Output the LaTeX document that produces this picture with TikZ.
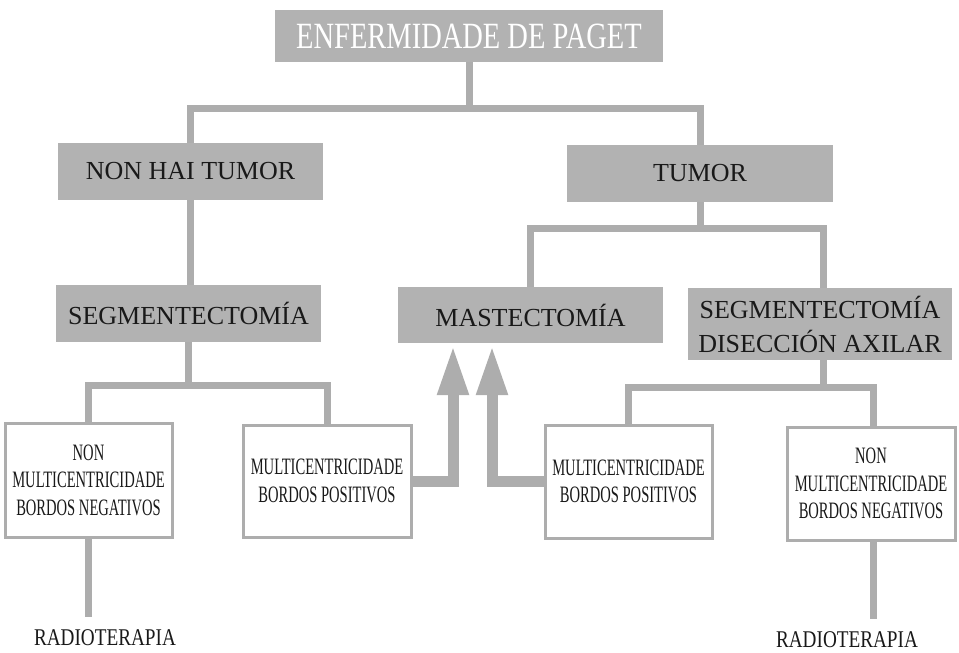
\documentclass[tikz,border=0pt]{standalone}
\usepackage{fontspec}
\setmainfont{Liberation Serif}
\newfontfamily\condfont[FakeStretch=0.62]{Liberation Serif}
\newfontfamily\radfont[FakeStretch=0.8]{Liberation Serif}
\newfontfamily\headfont[FakeStretch=0.77]{Liberation Serif}
\usetikzlibrary{arrows.meta}
\definecolor{linegray}{gray}{0.68}
\definecolor{fillgray}{gray}{0.70}
\definecolor{inkgray}{gray}{0.10}

\begin{document}
\begin{tikzpicture}[x=1pt,y=-1pt,
  graybox/.style={fill=fillgray, inner sep=0pt, text=inkgray,
    font=\fontsize{26}{34}\selectfont, align=center},
  whitebox/.style={draw=linegray, line width=3pt, fill=white, inner sep=0pt,
    text=inkgray, font=\condfont\fontsize{23.5}{27.5}\selectfont, align=center},
  conn/.style={draw=linegray, line width=7pt},
  bigarrow/.style={draw=linegray, line width=11pt,
    -{Triangle[width=29pt,length=50pt]}},
  radlabel/.style={inner sep=0pt, text=inkgray,
    font=\radfont\fontsize{24}{28}\selectfont}]

\useasboundingbox (0,0) rectangle (959,653);

% top level
\node[graybox, minimum width=388pt, minimum height=52pt, text=white,
  font=\headfont\fontsize{37}{40}\selectfont] (title) at (469,36) {ENFERMIDADE DE PAGET};

% second level
\node[graybox, minimum width=265pt, minimum height=57pt] (nonhai) at (190.5,171.5) {NON HAI TUMOR};
\node[graybox, minimum width=266pt, minimum height=57pt] (tumor) at (700,173.5) {TUMOR};

% third level
\node[graybox, minimum width=265pt, minimum height=57pt] (segl) at (188.5,313.5) {SEGMENTECTOMÍA};
\node[graybox, minimum width=265pt, minimum height=56pt] (mast) at (530.5,315) {MASTECTOMÍA};
\node[graybox, minimum width=264pt, minimum height=72pt] (segdis) at (820,324) {SEGMENTECTOMÍA\\DISECCIÓN AXILAR};

% outcome boxes
\node[whitebox, minimum width=167pt, minimum height=114pt] (nonL) at (88.5,480) {NON\\MULTICENTRICIDADE\\BORDOS NEGATIVOS};
\node[whitebox, minimum width=168pt, minimum height=112pt] (posL) at (327,481) {MULTICENTRICIDADE\\BORDOS POSITIVOS};
\node[whitebox, minimum width=167pt, minimum height=113pt] (posR) at (628.5,481.5) {MULTICENTRICIDADE\\BORDOS POSITIVOS};
\node[whitebox, minimum width=168pt, minimum height=113pt] (nonR) at (871,483.5) {NON\\MULTICENTRICIDADE\\BORDOS NEGATIVOS};

% treatment labels
\node[radlabel] (radL) at (105,638) {RADIOTERAPIA};
\node[radlabel] (radR) at (847,640) {RADIOTERAPIA};

% branch levels
\coordinate (b1) at (0,108);
\coordinate (b2) at (0,228);
\coordinate (b3) at (0,385);
\coordinate (b4) at (0,387);

% tree connectors
\draw[conn] (title.south) -- (title.south |- b1);
\draw[conn] (nonhai.north) -- (nonhai.north |- b1) -- (tumor.north |- b1) -- (tumor.north);
\draw[conn] (nonhai.south) -- (nonhai.south |- segl.north);
\draw[conn] (tumor.south) -- (tumor.south |- b2);
\draw[conn] (mast.north) -- (mast.north |- b2) -- ([xshift=3pt]segdis.north |- b2) -- ([xshift=3pt]segdis.north);
\draw[conn] (segl.south) -- (segl.south |- b3);
\draw[conn] (nonL.north) -- (nonL.north |- b3) -- (posL.north |- b3) -- (posL.north);
\draw[conn] ([xshift=3pt]segdis.south) -- ([xshift=3pt]segdis.south |- b4);
\draw[conn] (posR.north) -- (posR.north |- b4) -- ([xshift=2pt]nonR.north |- b4) -- ([xshift=2pt]nonR.north);
\draw[conn, shorten >=13pt] (nonL.south) -- (nonL.south |- radL.north);
\draw[conn, shorten >=13pt] ([xshift=2pt]nonR.south) -- ([xshift=2pt]nonR.south |- radR.north);

% positive margins lead back to mastectomy
\draw[bigarrow, shorten >=2pt] (posL.east) -| ([xshift=-77.5pt]mast.south);
\draw[bigarrow, shorten >=2pt] (posR.west) -| ([xshift=-38.5pt]mast.south);
\end{tikzpicture}
\end{document}
